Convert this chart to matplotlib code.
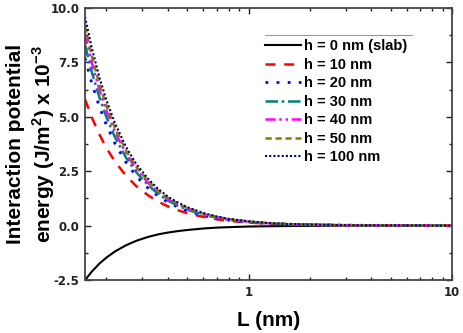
import matplotlib
matplotlib.use("Agg")
import matplotlib.pyplot as plt
from matplotlib.lines import Line2D
from matplotlib.ticker import FixedLocator, NullFormatter, FixedFormatter

plt.rcParams['font.family'] = ['Liberation Sans', 'DejaVu Sans']
plt.rcParams['font.weight'] = 'bold'
plt.rcParams['mathtext.fontset'] = 'custom'
plt.rcParams['mathtext.rm'] = 'Liberation Sans:bold'
plt.rcParams['mathtext.bf'] = 'Liberation Sans:bold'

# separation L (nm)
L = [0.157, 0.17, 0.185, 0.2, 0.22, 0.25, 0.28, 0.32, 0.36, 0.4, 0.45, 0.5,
     0.6, 0.7, 0.8, 1.0, 1.2, 1.5, 2.0, 3.0, 5.0, 10.0]

# interaction potential energy (J/m^2) x 10^-3
e_slab = [-2.50, -2.10, -1.74, -1.47, -1.19, -0.90, -0.70, -0.52, -0.40, -0.32, -0.25,
          -0.20, -0.13, -0.09, -0.07, -0.04, -0.03, -0.02, -0.01, 0.00, 0.00, 0.00]
e_h10 = [5.80, 4.95, 4.18, 3.57, 2.95, 2.29, 1.82, 1.40, 1.10, 0.89, 0.71,
         0.57, 0.40, 0.29, 0.22, 0.14, 0.10, 0.06, 0.04, 0.02, 0.01, 0.00]
e_h20 = [7.70, 6.51, 5.45, 4.63, 3.79, 2.90, 2.28, 1.73, 1.35, 1.08, 0.85,
         0.68, 0.46, 0.33, 0.25, 0.16, 0.11, 0.07, 0.04, 0.02, 0.01, 0.00]
e_h30 = [8.30, 7.02, 5.88, 4.99, 4.08, 3.12, 2.46, 1.87, 1.45, 1.16, 0.91,
         0.73, 0.50, 0.36, 0.27, 0.17, 0.12, 0.07, 0.04, 0.02, 0.01, 0.00]
e_h40 = [8.80, 7.44, 6.23, 5.29, 4.33, 3.31, 2.60, 1.98, 1.54, 1.23, 0.97,
         0.78, 0.53, 0.38, 0.29, 0.18, 0.12, 0.08, 0.04, 0.02, 0.01, 0.00]
e_h50 = [9.15, 7.74, 6.48, 5.50, 4.50, 3.44, 2.71, 2.06, 1.60, 1.28, 1.01,
         0.81, 0.55, 0.40, 0.30, 0.19, 0.13, 0.08, 0.04, 0.02, 0.01, 0.00]
e_h100 = [9.60, 8.12, 6.80, 5.77, 4.72, 3.61, 2.84, 2.16, 1.68, 1.34, 1.06,
          0.85, 0.58, 0.42, 0.31, 0.20, 0.13, 0.08, 0.05, 0.02, 0.01, 0.00]

labels = ["h = 0 nm (slab)", "h = 10 nm", "h = 20 nm", "h = 30 nm",
          "h = 40 nm", "h = 50 nm", "h = 100 nm"]

fig = plt.figure(figsize=(4.63, 3.33), dpi=100)
ax = fig.add_axes([0.1836, 0.159, 0.7924, 0.817])

series = [e_slab, e_h10, e_h20, e_h30, e_h40, e_h50, e_h100]
colors = ['black', '#ff0000', '#0000ff', '#008080', '#ff00ff', '#808000', '#000080']
styles = ['-', (0, (4, 3.5)), (0, (1, 3)), (0, (5, 1.5, 1, 1.5)),
          (0, (4, 1.5, 1, 1.5, 1, 1.5)), (0, (2.5, 1.5)), (0, (1, 1))]
widths = [1.5, 1.8, 2.0, 1.8, 1.8, 1.8, 1.5]

for y, c, ls, lw, lab in zip(series, colors, styles, widths, labels):
    ax.plot(L, y, color=c, linestyle=ls, lw=lw, label=lab)

ax.set_xscale('log')
ax.set_xlim(0.157, 10)
ax.set_ylim(-2.5, 10)

ax.xaxis.set_major_locator(FixedLocator([1, 10]))
ax.xaxis.set_major_formatter(FixedFormatter(['1', '10']))
ax.xaxis.set_minor_locator(FixedLocator([0.2, 0.3, 0.4, 0.5, 0.6, 0.7, 0.8, 0.9,
                                         2, 3, 4, 5, 6, 7, 8, 9]))
ax.xaxis.set_minor_formatter(NullFormatter())
ax.set_yticks([-2.5, 0.0, 2.5, 5.0, 7.5, 10.0])
ax.set_yticklabels(['-2.5', '0.0', '2.5', '5.0', '7.5', '10.0'])
ax.set_yticks([-1.25, 1.25, 3.75, 6.25, 8.75], minor=True)

ax.tick_params(which='both', direction='in', top=True, right=True,
               width=1, colors='#222222')
ax.tick_params(which='major', length=4, pad=4)
ax.tick_params(which='minor', length=2.5)
for lbl in ax.get_xticklabels() + ax.get_yticklabels():
    lbl.set_family('DejaVu Sans')
    lbl.set_fontsize(8.5)
    lbl.set_fontweight('bold')
for s in ax.spines.values():
    s.set_linewidth(1.3)
    s.set_color('#444444')

ax.set_xlabel('L (nm)', fontsize=15, fontweight='bold', labelpad=9)
ax.set_ylabel('Interaction potential\nenergy (J/m$^2$) x 10$^{-3}$',
              fontsize=15, fontweight='bold', linespacing=1.3)
ax.yaxis.set_label_coords(-0.075, 0.5)

leg = ax.legend(loc='upper left', bbox_to_anchor=(0.49, 0.885), frameon=False,
                fontsize=10.5, handlelength=2.5, handletextpad=0.2,
                labelspacing=0.31, borderaxespad=0, borderpad=0)
ax.add_line(Line2D([0.49, 0.891], [0.9, 0.9], transform=ax.transAxes,
                   color='#999999', lw=0.8))

fig.savefig('out.png', dpi=100)
